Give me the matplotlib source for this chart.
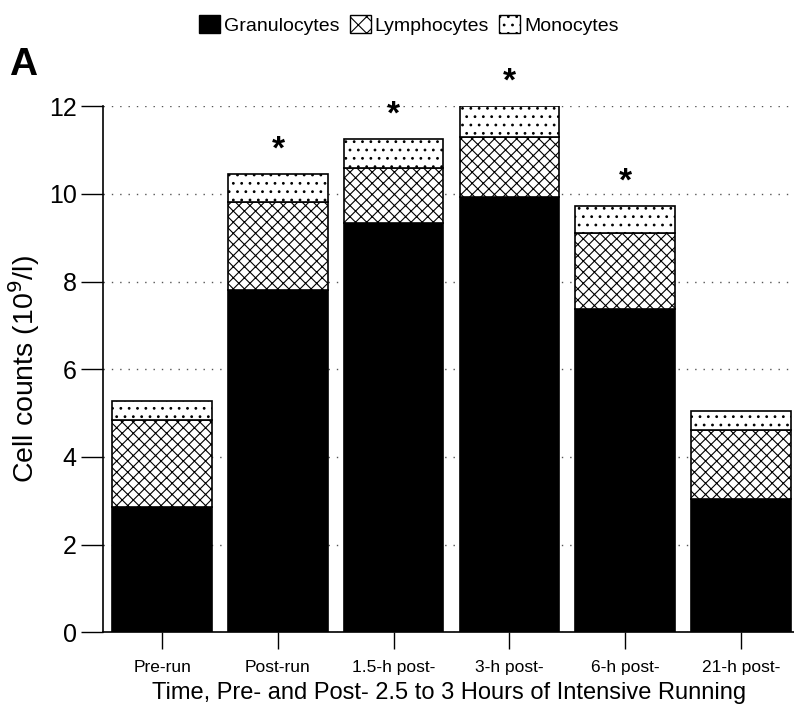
import numpy as np
import matplotlib.pyplot as plt
from matplotlib.patches import Patch

plt.rcParams['font.family'] = ['Liberation Sans', 'DejaVu Sans']
plt.rcParams['hatch.linewidth'] = 0.8

times = ['Pre-run', 'Post-run', '1.5-h post-', '3-h post-', '6-h post-', '21-h post-']
granulocytes = [2.85, 7.8, 9.34, 9.93, 7.37, 3.03]
lymphocytes = [2.0, 2.02, 1.25, 1.37, 1.73, 1.58]
monocytes = [0.43, 0.63, 0.66, 0.7, 0.62, 0.43]
significant = [False, True, True, True, True, False]

x = np.arange(len(times))
gran = np.array(granulocytes)
lymph = np.array(lymphocytes)
mono = np.array(monocytes)

fig = plt.figure(figsize=(7.94, 7.08), dpi=100)
ax = fig.add_axes([0.130, 0.107, 0.870, 0.743])

w = 0.86
ax.bar(x, gran, w, color='black', edgecolor='black', linewidth=1.2, zorder=3)
ax.bar(x, lymph, w, bottom=gran, color='white', edgecolor='black',
       hatch='xxx', linewidth=1.2, zorder=3)
ax.bar(x, mono, w, bottom=gran + lymph, color='white', edgecolor='black',
       hatch='..', linewidth=1.2, zorder=3)

tot = gran + lymph + mono
for i, s in enumerate(significant):
    if s:
        ax.text(x[i], tot[i] + 0.55, '*', ha='center', va='center',
                fontsize=24, fontweight='bold', clip_on=False)

ax.set_xlim(-0.51, 5.46)
ax.set_ylim(0, 12)
ax.set_yticks(range(0, 13, 2))
ax.set_xticks(x)
ax.set_xticklabels(times, fontsize=12.5)
ax.tick_params(axis='y', labelsize=18, length=16, width=1, pad=3)
ax.tick_params(axis='x', length=12, width=1, pad=8)
ax.yaxis.grid(True, linestyle=(0, (1, 5)), color='#555555', linewidth=1, zorder=0)
for sp in ['top', 'right']:
    ax.spines[sp].set_visible(False)
ax.spines['left'].set_linewidth(1.2)
ax.spines['bottom'].set_linewidth(1.2)

ax.set_ylabel('Cell counts (10$^9$/l)', fontsize=20.5, labelpad=5)
ax.set_xlabel('Time, Pre- and Post- 2.5 to 3 Hours of Intensive Running',
              fontsize=17, labelpad=5)

fig.text(0.012, 0.908, 'A', fontsize=28, fontweight='bold', va='center')

handles = [Patch(facecolor='black', edgecolor='black', label='Granulocytes'),
           Patch(facecolor='white', edgecolor='black', hatch='xx', label='Lymphocytes'),
           Patch(facecolor='white', edgecolor='black', hatch='..', label='Monocytes')]
fig.legend(handles=handles, loc='center', bbox_to_anchor=(0.515, 0.965), ncol=3,
           frameon=False, fontsize=14, handlelength=1.1, handleheight=1.1,
           handletextpad=0.2, columnspacing=0.5)

fig.savefig('out.png', dpi=100)
